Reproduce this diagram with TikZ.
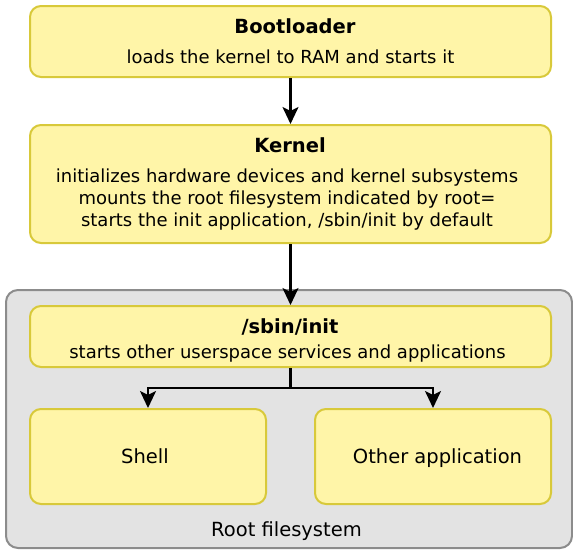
\documentclass[tikz,border=0pt]{standalone}
\usepackage{fontspec}
\setmainfont{DejaVu Sans}
\usetikzlibrary{arrows.meta}
\definecolor{boxfill}{HTML}{FFF5A8}
\definecolor{boxline}{HTML}{D8C93A}
\definecolor{fsfill}{HTML}{E3E3E3}
\definecolor{fsline}{HTML}{8C8C8C}
\tikzset{
  stagebox/.style={draw=boxline, fill=boxfill, line width=2pt, rounded corners=11pt,
    rectangle, inner sep=0pt},
  fsbox/.style={draw=fsline, fill=fsfill, line width=2pt, rounded corners=12pt,
    rectangle, inner sep=0pt},
  title/.style={anchor=base, inner sep=0pt, font=\fontsize{19.5}{23}\selectfont\bfseries},
  desc/.style={anchor=base, inner sep=0pt, font=\fontsize{18}{21}\selectfont},
  label/.style={anchor=base, inner sep=0pt, font=\fontsize{19.5}{23}\selectfont},
  flow/.style={line width=2.2pt, -{Stealth[length=17pt, width=16pt, inset=4pt]}},
}
\begin{document}
\begin{tikzpicture}[x=1pt, y=-1pt]
\useasboundingbox (0,0) rectangle (573,549);

% root filesystem container
\node[fsbox, minimum width=566pt, minimum height=258pt] (fs) at (289,419) {};
\node[label] (fslabel) at (286.5,536.7) {Root filesystem};

% boot stages
\node[stagebox, minimum width=521pt, minimum height=71pt] (boot) at (290.5,41.5) {};
\node[title] (boottitle) at (295,33) {Bootloader};
\node[desc] (bootdesc) at (290.5,63.3) {loads the kernel to RAM and starts it};

\node[stagebox, minimum width=521pt, minimum height=118pt] (kernel) at (290.5,184) {};
\node[title] (kerneltitle) at (290,152) {Kernel};
\node[desc] (kdesc1) at (287,182) {initializes hardware devices and kernel subsystems};
\node[desc] (kdesc2) at (287,204.5) {mounts the root filesystem indicated by root=};
\node[desc] (kdesc3) at (287,226) {starts the init application, /sbin/init by default};

\node[stagebox, minimum width=521pt, minimum height=61pt] (init) at (290.5,336.5) {};
\node[title] (inittitle) at (290,333) {/sbin/init};
\node[desc] (initdesc) at (287.5,358) {starts other userspace services and applications};

\node[stagebox, minimum width=236pt, minimum height=95pt] (shell) at (148,456.5) {};
\node[label] (shelltext) at (145,463) {Shell};
\node[stagebox, minimum width=236pt, minimum height=95pt] (other) at (433,456.5) {};
\node[label] (othertext) at (437.5,463.5) {Other application};

% connectors
\draw[flow] (boot.south) -- (kernel.north);
\draw[flow] (kernel.south) -- (init.north);
\coordinate (split) at (290.5,388);
\draw[line width=2.2pt] (init.south) -- (split);
\draw[flow] (split) -| (shell.north);
\draw[flow] (split) -| (other.north);
\end{tikzpicture}
\end{document}
